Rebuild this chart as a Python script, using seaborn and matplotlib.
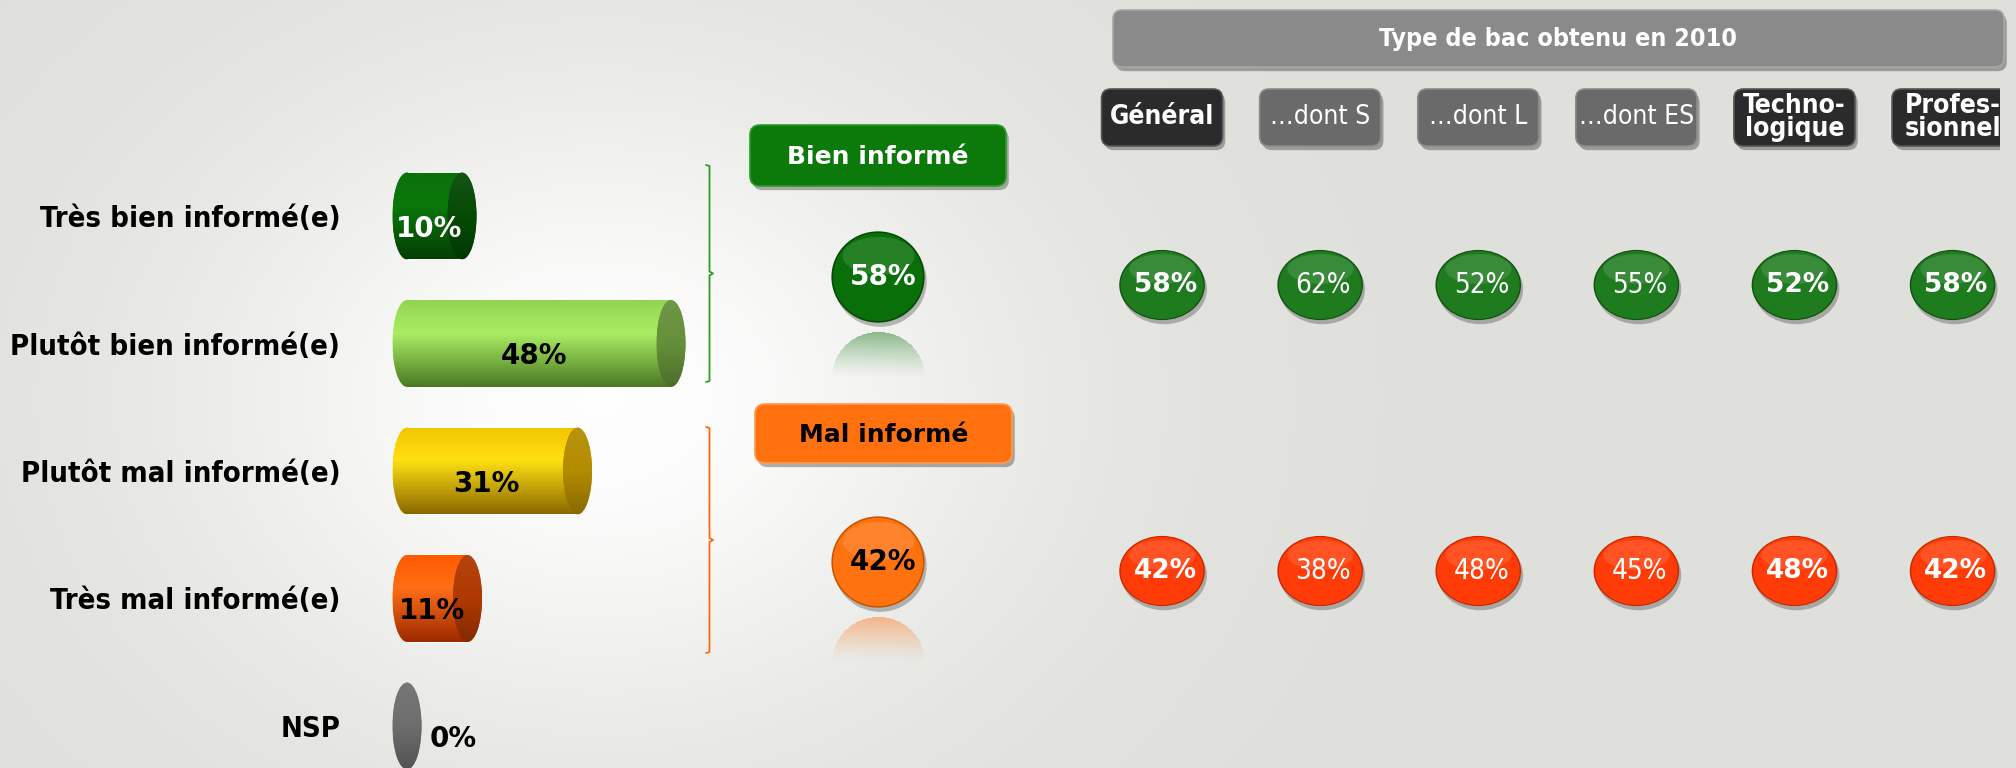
import numpy as np
import pandas as pd
import seaborn as sns
import matplotlib.pyplot as plt
import matplotlib.patheffects as pe
from matplotlib.patches import Ellipse, FancyBboxPatch
from matplotlib.path import Path
from matplotlib.colors import LinearSegmentedColormap, to_rgb

# data
levels = ['Très bien informé(e)', 'Plutôt bien informé(e)', 'Plutôt mal informé(e)',
          'Très mal informé(e)', 'NSP']
level_pct = [10, 48, 31, 11, 0]
groups = ['Bien informé', 'Mal informé']
group_pct = [58, 42]
bac_types = ['Général', '…dont S', '…dont L', '…dont ES', 'Techno-\nlogique', 'Profes-\nsionnel']
bac_bien = [58, 62, 52, 55, 52, 58]
bac_mal = [42, 38, 48, 45, 48, 42]
bac_main = [True, False, False, False, True, True]

# styles
body_cols = [('#0a700a', '#0b780b', '#043f04'),
             ('#92d452', '#aaee64', '#4a7822'),
             ('#f2c600', '#ffe012', '#8a6800'),
             ('#ff5a00', '#ff6e16', '#9c2a00'),
             ('#707070', '#707070', '#707070')]
cap_cols = ['#054a05', '#65903a', '#b48c00', '#b03800', '#6e6e6e']
mid_cols = ['#097009', '#ff7210']
mid_edge = ['#054805', '#c85400']
right_cols = ['#1e7b1e', '#ff3c08']
right_edge = ['#125212', '#c42a00']

W, H = 2016, 768
sns.set_theme(style='white')
plt.rcParams['font.family'] = ['DejaVu Sans']

fig = plt.figure(figsize=(W / 100, H / 100), dpi=100)


def fig_rect(x0, y0, x1, y1):
    return [x0 / W, 1 - y1 / H, (x1 - x0) / W, (y1 - y0) / H]


def mix(c, other, t):
    c, o = np.array(to_rgb(c)), np.array(to_rgb(other))
    return tuple(c * (1 - t) + o * t)


def ellipse_marker(w, h, cx=0.0, cy=0.0):
    c = Path.unit_circle()
    v = c.vertices * [w, h] + [cx, cy]
    verts = np.vstack([[-1, -1], [1, 1], v])
    codes = np.concatenate([[Path.MOVETO, Path.MOVETO], c.codes])
    return Path(verts, codes)


# background with soft glow
bg = fig.add_axes([0, 0, 1, 1])
yy, xx = np.mgrid[0:H, 0:W]
glow = np.exp(-((xx - 600) / 420) ** 2 - ((yy - 400) / 330) ** 2)
base = np.array([223, 224, 219]) / 255
img = base + (1 - base) * glow[..., None] * 0.97
bg.imshow(img, extent=(0, W, H, 0), aspect='auto', zorder=0)
bg.set_xlim(0, W)
bg.set_ylim(H, 0)
bg.axis('off')

# ---------------- bars ----------------
PX_PER = 5.5
ZERO = 407
ROW0, ROW_PX = 216, 127.5
BAR_H = 0.68
CAP = 29 / PX_PER

ax = fig.add_axes(fig_rect(350, 100, 700, H))
ax.set_facecolor('none')
df = pd.DataFrame({'niveau': levels, 'pct': level_pct})
sns.barplot(data=df, x='pct', y='niveau', hue='niveau', palette=[c[1] for c in body_cols],
            width=BAR_H, saturation=1, legend=False, ax=ax, zorder=2)

grad = np.linspace(0, 1, 256)[:, None]
for patch in list(ax.patches):
    y0, hgt = patch.get_y(), patch.get_height()
    i = int(round(y0 + hgt / 2))
    v = level_pct[i]
    top, mid, bot = body_cols[i]
    cm = LinearSegmentedColormap.from_list(f'b{i}', [(0, top), (0.38, mid), (1, bot)])
    if v > 0:
        le = Ellipse((0, i), CAP, hgt, facecolor=mid, edgecolor='none', zorder=2)
        ax.add_patch(le)
        g = ax.imshow(grad, cmap=cm, extent=(-CAP / 2, 0.05, y0 + hgt, y0),
                      aspect='auto', zorder=2.1)
        g.set_clip_path(le)
        g2 = ax.imshow(grad, cmap=cm, extent=(0, v, y0 + hgt, y0), aspect='auto', zorder=2.2)
        g2.set_clip_path(patch)
    cap = Ellipse((v, i), CAP, hgt, facecolor=cap_cols[i], edgecolor='none', zorder=3)
    ax.add_patch(cap)
    cc = cap_cols[i]
    cm2 = LinearSegmentedColormap.from_list(f'c{i}', [(0, mix(cc, 'white', 0.06)), (0.5, cc),
                                                      (1, mix(cc, 'black', 0.25))])
    g3 = ax.imshow(grad, cmap=cm2, extent=(v - CAP / 2, v + CAP / 2, y0 + hgt, y0),
                   aspect='auto', zorder=3.1)
    g3.set_clip_path(cap)

for i, v in enumerate(level_pct):
    if v > 0:
        ax.text(v / 2 - 1, i + 0.1, f'{v}%', ha='center', va='center', fontsize=20,
                fontweight='bold', color='white' if i == 0 else 'black', zorder=5)
    else:
        ax.text(v + 4.2, i + 0.1, f'{v}%', ha='left', va='center', fontsize=20,
                fontweight='bold', color='black', zorder=5)

ax.set_xlim((350 - ZERO) / PX_PER, (700 - ZERO) / PX_PER)
ax.set_ylim((H - ROW0) / ROW_PX, (100 - ROW0) / ROW_PX)
ax.set_xticks([])
ax.set_xlabel('')
ax.set_ylabel('')
ax.tick_params(axis='y', length=0, pad=7)
for lbl in ax.get_yticklabels():
    lbl.set_fontsize(21)
    lbl.set_fontweight('bold')
    lbl.set_fontstretch('condensed')
    lbl.set_color('black')
sns.despine(ax=ax, left=True, bottom=True)

# braces
def brace(x, y0, y1, color, d=3.5):
    ym = (y0 + y1) / 2
    verts = [(x, y0), (x + d, y0 + 1), (x + d, y0 + 16), (x + d, ym - 12), (x + d, ym - 2),
             (x + 2 * d, ym), (x + d, ym + 2), (x + d, ym + 12), (x + d, y1 - 16),
             (x + d, y1 - 1), (x, y1)]
    codes = [Path.MOVETO, Path.CURVE3, Path.CURVE3, Path.LINETO, Path.CURVE3, Path.CURVE3,
             Path.CURVE3, Path.CURVE3, Path.LINETO, Path.CURVE3, Path.CURVE3]
    bg.plot(*zip(*Path(verts, codes).interpolated(20).vertices), color=color, lw=1.3,
            solid_capstyle='round', zorder=2)

brace(706, 165, 382, '#2e9e22')
brace(706, 427, 653, '#ff6a10')

# group boxes
shadow = [pe.SimplePatchShadow(offset=(2, -3), shadow_rgbFace='black', alpha=0.3), pe.Normal()]
for (x0, y0, x1, y1), fc, ec, tc, lab in [((750, 125, 1006, 186), '#0b7a0b', '#2a9a2a', 'white', groups[0]),
                                         ((755, 404, 1012, 463), '#ff700e', '#ff9a50', 'black', groups[1])]:
    box = FancyBboxPatch((x0, y0), x1 - x0, y1 - y0, boxstyle='round,pad=0,rounding_size=10',
                         facecolor=fc, edgecolor=ec, lw=1.2, zorder=3)
    box.set_path_effects(shadow)
    bg.add_patch(box)
    bg.text((x0 + x1) / 2, (y0 + y1) / 2 + 1, lab, ha='center', va='center', fontsize=18,
            fontweight='bold', color=tc, zorder=4)

# ---------------- group circles ----------------
axm = fig.add_axes(fig_rect(800, 0, 956, H))
axm.set_facecolor('none')
gdf = pd.DataFrame({'ensemble': ['Ensemble'] * 2, 'groupe': groups, 'pct': group_pct})
circ = ellipse_marker(1.0, 0.98)
sns.scatterplot(data=gdf, x='ensemble', y='groupe', hue='groupe',
                palette=dict(zip(groups, mid_edge)), marker=circ, s=4500, linewidth=0,
                legend=False, ax=axm, zorder=2)
sns.scatterplot(data=gdf, x='ensemble', y='groupe', hue='groupe',
                palette=dict(zip(groups, mid_cols)), marker=circ, s=4200, linewidth=0,
                legend=False, ax=axm, zorder=3)
sns.scatterplot(data=gdf, x='ensemble', y='groupe', color='white', alpha=0.12,
                marker=ellipse_marker(0.8, 0.42, 0, 0.48), s=4200, linewidth=0,
                legend=False, ax=axm, zorder=4)
axm.collections[0].set_path_effects(
    [pe.SimplePatchShadow(offset=(1.5, -3), shadow_rgbFace='black', alpha=0.25), pe.Normal()])
for i, p in enumerate(group_pct):
    axm.text(0.03, i, f'{p}%', ha='center', va='center', fontsize=20, fontweight='bold',
             color='white' if i == 0 else 'black', zorder=5)
axm.set_xlim(-0.5, 0.5)
axm.set_ylim((H - 277) / 285, -277 / 285)
axm.axis('off')

# reflections under group circles
fig.canvas.draw()
for i, col in enumerate(mid_cols):
    cx, cy = axm.transData.transform((0, i))
    cy = H - cy
    rx, ry, hh = 46.5, 45.5, 46
    top = cy + 55
    ys, xs = np.mgrid[0:hh, 0:int(2 * rx)]
    xv = xs + 0.5 - rx
    yv = ys + 0.5
    inside = (xv / rx) ** 2 + ((yv - ry) / ry) ** 2 <= 1
    alpha = inside * 0.45 * np.clip(1 - yv / hh, 0, 1) ** 1.3
    rgba = np.zeros((hh, int(2 * rx), 4))
    rgba[..., :3] = to_rgb(col)
    rgba[..., 3] = alpha
    bg.imshow(rgba, extent=(cx - rx, cx + rx, top + hh, top), aspect='auto', zorder=1)
bg.set_xlim(0, W)
bg.set_ylim(H, 0)

# ---------------- bac type panel ----------------
title = FancyBboxPatch((1113, 10), 891, 57, boxstyle='round,pad=0,rounding_size=9',
                       facecolor='#8a8a8a', edgecolor='#a8a8a8', lw=1.2, zorder=3)
title.set_path_effects(shadow)
bg.add_patch(title)
bg.text(1558, 39, 'Type de bac obtenu en 2010', ha='center', va='center', fontsize=18,
        fontweight='bold', fontstretch='condensed', color='white', zorder=4)

axr = fig.add_axes(fig_rect(1083, 0, 2000, H))
axr.set_facecolor('none')
rdf = pd.DataFrame({'bac': bac_types * 2,
                    'avis': [groups[0]] * len(bac_types) + [groups[1]] * len(bac_types),
                    'pct': bac_bien + bac_mal})
rcirc = ellipse_marker(1.0, 0.82)
sns.scatterplot(data=rdf, x='bac', y='avis', hue='avis', palette=dict(zip(groups, right_edge)),
                marker=rcirc, s=3800, linewidth=0, legend=False, ax=axr, zorder=2)
sns.scatterplot(data=rdf, x='bac', y='avis', hue='avis', palette=dict(zip(groups, right_cols)),
                marker=rcirc, s=3550, linewidth=0, legend=False, ax=axr, zorder=3)
sns.scatterplot(data=rdf, x='bac', y='avis', color='white', alpha=0.12,
                marker=ellipse_marker(0.8, 0.36, 0, 0.4), s=3550, linewidth=0,
                legend=False, ax=axr, zorder=4)
axr.collections[0].set_path_effects(
    [pe.SimplePatchShadow(offset=(1.5, -3), shadow_rgbFace='black', alpha=0.25), pe.Normal()])

for _, row in rdf.iterrows():
    j = bac_types.index(row['bac'])
    k = groups.index(row['avis'])
    main = bac_main[j]
    axr.text(j + 0.02, k, f"{row['pct']}%", ha='center', va='center',
             fontsize=19 if main else 20, fontweight='bold' if main else 'normal',
             fontstretch='normal' if main else 'condensed', color='white', zorder=5)

col_px = 917 / 5.8
HY = (117.5 - 285) / 286
BW, BH = 121 / col_px, 57 / 286
for j, lab in enumerate(bac_types):
    main = bac_main[j]
    hb = FancyBboxPatch((j - BW / 2, HY - BH / 2), BW, BH,
                        boxstyle='round,pad=0,rounding_size=0.06', mutation_aspect=col_px / 286,
                        facecolor='#2b2b2b' if main else '#6a6a6a',
                        edgecolor='#555555' if main else '#8a8a8a', lw=1.2, zorder=3)
    hb.set_path_effects(shadow)
    axr.add_patch(hb)
    axr.text(j, HY, lab, ha='center', va='center', fontsize=19 if main else 19,
             fontweight='bold' if main else 'normal', fontstretch='condensed',
             linespacing=0.85, color='white', zorder=4)

axr.set_xlim(-0.5, 5.3)
axr.set_ylim((H - 285) / 286, -285 / 286)
axr.axis('off')

fig.savefig('out.png', dpi=100)
